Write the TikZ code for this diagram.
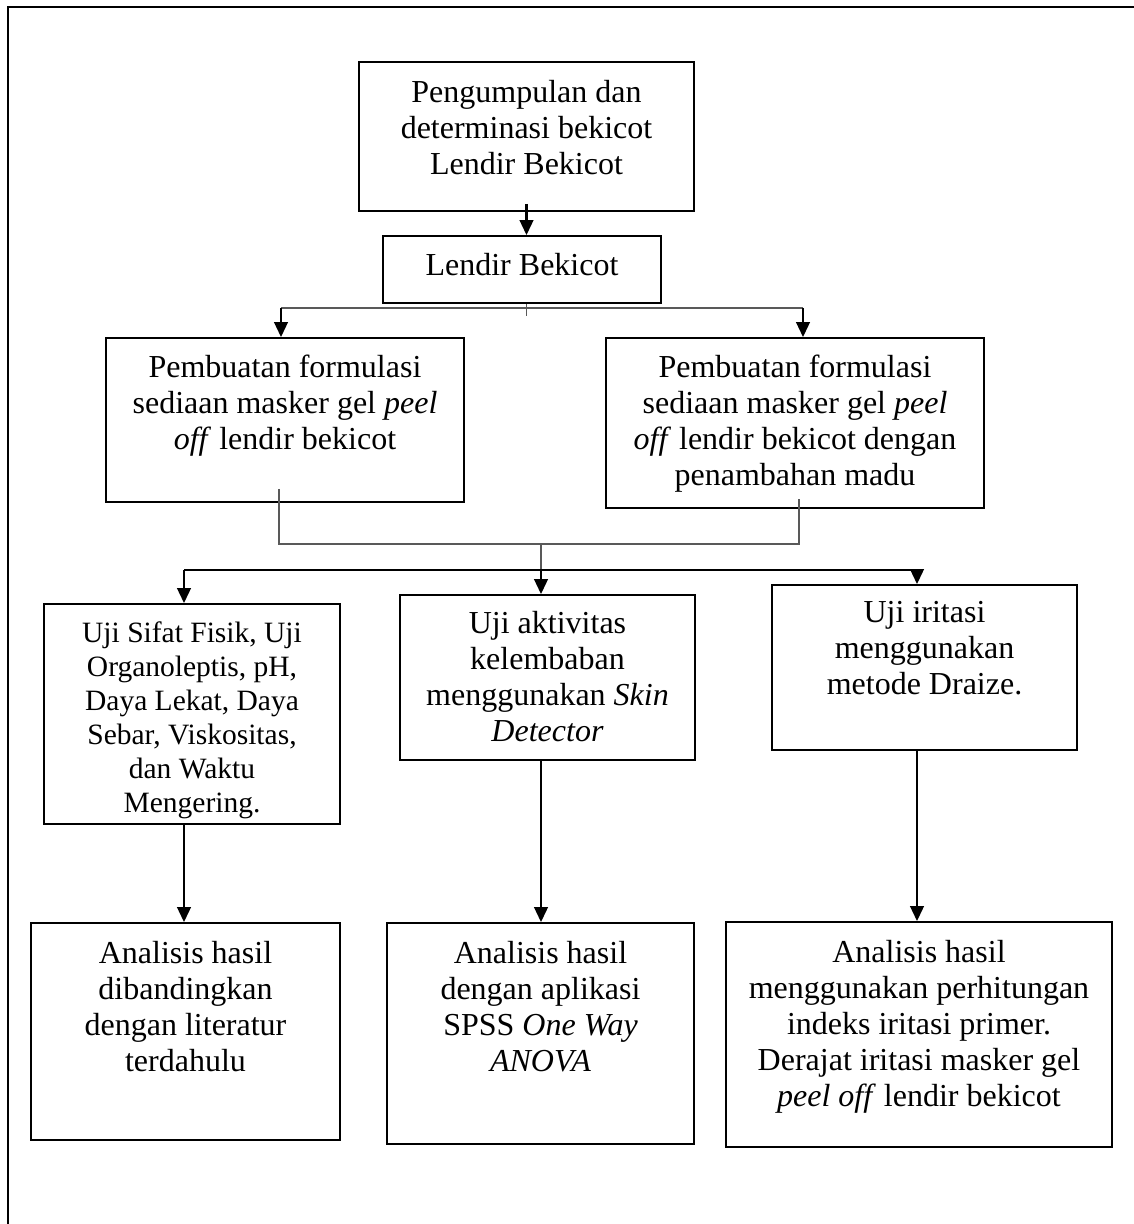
\documentclass[tikz,border=0pt]{standalone}
\usepackage{fontspec}
\setmainfont{Liberation Serif}
\usetikzlibrary{fit, positioning, arrows.meta}
\newcommand{\bodyfont}{\fontsize{12.8}{14.4}\selectfont}
\newcommand{\smallbody}{\fontsize{11.8}{13.6}\selectfont}

\begin{document}
\begin{tikzpicture}[
  x=0.4pt, y=-0.4pt,
  box/.style={draw, line width=0.7pt, inner sep=0pt},
  txt/.style={anchor=north, align=center, inner sep=0pt, font=\bodyfont},
  arr/.style={line width=1pt, -{Triangle[length=6pt,width=5.4pt]}},
  thinline/.style={line width=0.45pt, black!65}
]
\useasboundingbox (0,0) rectangle (1133,1224);
% page frame
\draw[line width=0.8pt] (8,7) rectangle (1150,1240);

% Top: collecting
\node[box, fit={(359,62) (694,211)}] (kumpul) {};
\node[txt] at ([yshift=-7.4pt]kumpul.north) {Pengumpulan dan\\determinasi bekicot\\Lendir Bekicot};
\node[box, fit={(383,236) (661,303)}] (lendir) {};
\node[txt] at ([yshift=-7pt]lendir.north) {Lendir Bekicot};

% Formulations
\node[box, fit={(106,338) (464,502)}] (formA) {};
\node[txt] at ([yshift=-7pt]formA.north) {Pembuatan formulasi\\sediaan masker gel \textit{peel}\\\textit{off} lendir bekicot};
\node[box, fit={(606,338) (984,508)}] (formB) {};
\node[txt] at ([yshift=-7pt]formB.north) {Pembuatan formulasi\\sediaan masker gel \textit{peel}\\\textit{off} lendir bekicot dengan\\penambahan madu};

% Tests
\node[box, fit={(44,604) (340,824)}] (ujiA) {};
\node[txt, font=\smallbody] at ([yshift=-7.2pt]ujiA.north) {Uji Sifat Fisik, Uji\\Organoleptis, pH,\\Daya Lekat, Daya\\Sebar, Viskositas,\\dan Waktu\\Mengering.};
\node[box, fit={(400,595) (695,760)}] (ujiB) {};
\node[txt] at ([yshift=-6.8pt]ujiB.north) {Uji aktivitas\\kelembaban\\menggunakan \textit{Skin}\\\textit{Detector}};
\node[box, fit={(772,585) (1077,750)}] (ujiC) {};
\node[txt] at ([yshift=-6.8pt]ujiC.north) {Uji iritasi\\menggunakan\\metode Draize.};

% Analysis
\node[box, fit={(31,923) (340,1140)}] (hasilA) {};
\node[txt] at ([yshift=-7.4pt]hasilA.north) {Analisis hasil\\dibandingkan\\dengan literatur\\terdahulu};
\node[box, fit={(387,923) (694,1144)}] (hasilB) {};
\node[txt] at ([yshift=-7.4pt]hasilB.north) {Analisis hasil\\dengan aplikasi\\SPSS \textit{One Way}\\\textit{ANOVA}};
\node[box, fit={(726,922) (1112,1147)}] (hasilC) {};
\node[txt] at ([yshift=-7.4pt]hasilC.north) {Analisis hasil\\menggunakan perhitungan\\indeks iritasi primer.\\Derajat iritasi masker gel\\\textit{peel off} lendir bekicot};

% branch points
\coordinate (cabangL) at (281,308);
\coordinate (cabangR) at (803,308);
\coordinate (gabungL) at (279,544);
\coordinate (gabungR) at (799,544);
\coordinate (pusat) at (541,544);
\coordinate (bagiL) at (184,570);
\coordinate (bagiR) at (917,570);

% connectors
\draw[arr] ([yshift=3.2pt]kumpul.south) -- (kumpul.south |- lendir.north);
\draw[thinline] (kumpul.south |- lendir.south) -- ++(0,12);
\draw[thinline] (cabangL) -- (cabangR);
\draw[arr] (cabangL) -- (cabangL |- formA.north);
\draw[arr] (cabangR) -- (cabangR |- formB.north);

\draw[thinline] ([yshift=5.6pt]gabungL |- formA.south) -- (gabungL) -- (gabungR) -- ([yshift=4pt]gabungR |- formB.south);
\draw[thinline] (pusat) -- (pusat |- bagiL);
\draw[line width=0.6pt] (bagiL) -- (bagiR);
\draw[arr] (bagiL) -- (bagiL |- ujiA.north);
\draw[arr] (pusat |- bagiL) -- (pusat |- ujiB.north);
\draw[arr] (bagiR) -- (bagiR |- ujiC.north);

\draw[arr] (bagiL |- ujiA.south) -- (bagiL |- hasilA.north);
\draw[arr] (pusat |- ujiB.south) -- (pusat |- hasilB.north);
\draw[arr] (bagiR |- ujiC.south) -- (bagiR |- hasilC.north);
\end{tikzpicture}
\end{document}
